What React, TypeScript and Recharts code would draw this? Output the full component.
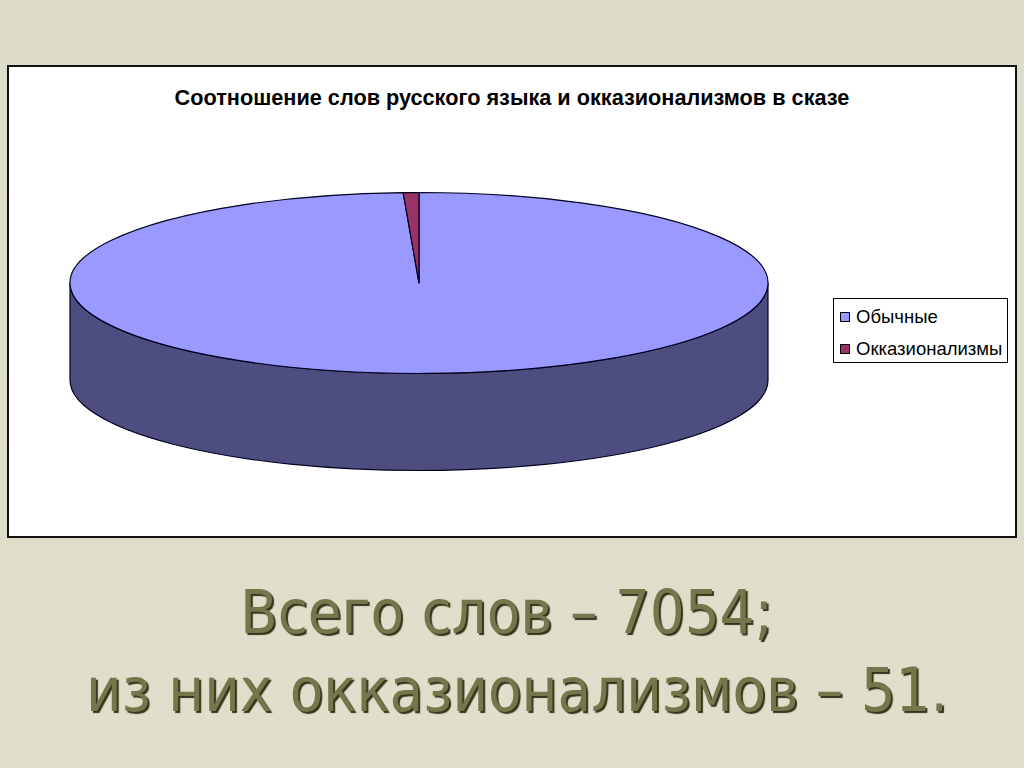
import React from 'react';
import { PieChart, Pie, Cell, Legend } from 'recharts';

const categories = ['Обычные', 'Окказионализмы'];
const wordCounts = [7003, 51];
const sliceColors = ['#9999ff', '#993366'];
const sideColors = ['#4d4d80', '#5c1f3d'];
const chartTitle = 'Соотношение слов русского языка и окказионализмов в сказе';
const captionLines = ['Всего слов – 7054;', 'из них окказионализмов – 51.'];

const data = categories.map((name, i) => ({ name, value: wordCounts[i], side: sideColors[i], color: sliceColors[i] }));

const RATIO = 0.2593;
const DEPTH = 97;
const RAD = Math.PI / 180;

function EllipseSector(props: any) {
  const { cx, cy, outerRadius, startAngle, endAngle, payload } = props;
  const rx = outerRadius;
  const ry = outerRadius * RATIO;
  const pt = (a: number, dy = 0) => [cx + rx * Math.cos(a * RAD), cy - ry * Math.sin(a * RAD) + dy];
  const lo = Math.min(startAngle, endAngle);
  const hi = Math.max(startAngle, endAngle);
  const fill = payload?.color ?? props.fill;
  const side = payload?.side ?? '#4d4d80';
  const sides: any[] = [];
  for (let k = -2; k <= 2; k++) {
    const fa = 180 + 360 * k;
    const fb = 360 + 360 * k;
    const a = Math.max(lo, fa);
    const b = Math.min(hi, fb);
    if (b > a) {
      const p1 = pt(a);
      const p2 = pt(b);
      const p3 = pt(b, DEPTH);
      const p4 = pt(a, DEPTH);
      const large = b - a > 180 ? 1 : 0;
      const d = `M${p1[0]},${p1[1]} A${rx},${ry} 0 ${large} 0 ${p2[0]},${p2[1]} L${p3[0]},${p3[1]} A${rx},${ry} 0 ${large} 1 ${p4[0]},${p4[1]} Z`;
      sides.push(<path key={k} d={d} fill={side} stroke="#000022" strokeWidth={1.2} />);
    }
  }
  const s = pt(startAngle);
  const e = pt(endAngle);
  const large = Math.abs(endAngle - startAngle) > 180 ? 1 : 0;
  const sweep = endAngle < startAngle ? 1 : 0;
  const top = `M${cx},${cy} L${s[0]},${s[1]} A${rx},${ry} 0 ${large} ${sweep} ${e[0]},${e[1]} Z`;
  return (
    <g>
      {sides}
      <path d={top} fill={fill} stroke="#000022" strokeWidth={1.2} strokeLinejoin="round" />
    </g>
  );
}

function LegendBox() {
  return (
    <div
      style={{
        width: 175,
        height: 65,
        boxSizing: 'border-box',
        border: '1px solid #000',
        background: '#fff',
        fontFamily: '"Liberation Sans", Arial, sans-serif',
        fontSize: 18.5,
        color: '#000',
        paddingLeft: 6,
        paddingTop: 9,
      }}
    >
      {data.map((d) => (
        <div key={d.name} style={{ display: 'flex', alignItems: 'center', height: 18, marginBottom: 14 }}>
          <span style={{ width: 8, height: 8, border: '1px solid #000', background: d.color, marginRight: 6, display: 'inline-block' }} />
          <span>{d.name}</span>
        </div>
      ))}
    </div>
  );
}

const captionStyle: React.CSSProperties = {
  position: 'absolute',
  fontFamily: '"DejaVu Sans Condensed", "DejaVu Sans", sans-serif',
  fontSize: 61,
  color: '#76764c',
  textShadow: '2px 2px 1px #34341c',
  whiteSpace: 'nowrap',
  lineHeight: 1,
};

export default function App() {
  return (
    <div
      style={{
        position: 'absolute',
        left: 0,
        top: 0,
        width: 1024,
        height: 768,
        overflow: 'hidden',
        background: 'linear-gradient(#dedcca, #e0dfcb)',
      }}
    >
      <div
        style={{
          position: 'absolute',
          left: 7,
          top: 65,
          width: 1010,
          height: 473,
          boxSizing: 'border-box',
          border: '2px solid #111',
          background: '#fff',
        }}
      >
        <div
          style={{
            position: 'absolute',
            left: 0,
            right: 0,
            top: 18,
            textAlign: 'center',
            fontFamily: '"Liberation Sans", Arial, sans-serif',
            fontWeight: 'bold',
            fontSize: 21.7,
            color: '#000',
          }}
        >
          {chartTitle}
        </div>
        <PieChart width={1006} height={469} margin={{ top: 0, right: 0, bottom: 0, left: 0 }}>
          <Pie
            data={data}
            dataKey="value"
            nameKey="name"
            cx={410}
            cy={216}
            outerRadius={349}
            startAngle={90}
            endAngle={-270}
            stroke="#000022"
            isAnimationActive={false}
            shape={EllipseSector}
            inactiveShape={EllipseSector}
          >
            {data.map((d) => (
              <Cell key={d.name} fill={d.color} />
            ))}
          </Pie>
          <Legend
            layout="vertical"
            content={() => <LegendBox />}
            wrapperStyle={{ position: 'absolute', left: 824, top: 231, width: 175, height: 65 }}
          />
        </PieChart>
      </div>
      <div style={{ ...captionStyle, left: 240, top: 581 }}>{captionLines[0]}</div>
      <div style={{ ...captionStyle, left: 86, top: 659 }}>{captionLines[1]}</div>
    </div>
  );
}
